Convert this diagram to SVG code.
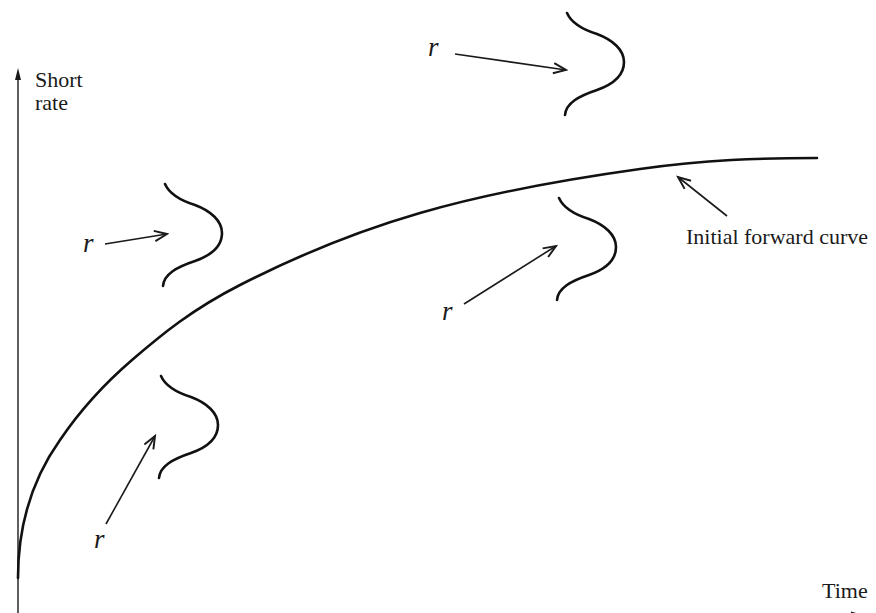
<svg xmlns="http://www.w3.org/2000/svg" width="876" height="613" viewBox="0 0 876 613">
  <style>
    .lbl { font-family: "Liberation Serif", "Times New Roman", serif; font-size: 22px; fill: #1a1a1a; }
    .r { font-family: "Liberation Serif", "Times New Roman", serif; font-size: 27px; font-style: italic; fill: #1a1a1a; }
    .axis { stroke: #1a1a1a; stroke-width: 1.4; fill: none; }
    .curve { stroke: #111; stroke-width: 2.6; fill: none; stroke-linecap: round; }
    .dist { stroke: #111; stroke-width: 2.6; fill: none; stroke-linecap: round; }
    .arr { stroke: #1a1a1a; stroke-width: 1.6; fill: none; marker-end: url(#barb); }
  </style>
  <defs>
    <marker id="barb" markerUnits="userSpaceOnUse" markerWidth="16" markerHeight="16" viewBox="-12 -6 14 12" refX="0" refY="0" orient="auto">
      <path d="M-11,-4.5 L0,0 L-11,4.5" stroke="#1a1a1a" stroke-width="1.7" fill="none"/>
    </marker>
    <path id="bell" d="M0,0 C4,9 14,16 30,21 C46,27 57,37 57,49 C57,62 47,71 30,77 C12,83 -1,90 -2,102"/>
  </defs>

  <g id="axes">
    <line class="axis" x1="18" y1="613" x2="18" y2="76"/>
    <path d="M18,68 L15,80 L21,80 Z" fill="#1a1a1a"/>
    <line class="axis" x1="18" y1="615" x2="854" y2="615"/>
    <path d="M863,615 L851,611.5 L851,618.5 Z" fill="#1a1a1a"/>
    <text class="lbl" x="35" y="87">Short</text>
    <text class="lbl" x="35" y="110">rate</text>
    <text class="lbl" x="822" y="598">Time</text>
  </g>

  <g id="forward-curve">
    <path class="curve" d="M18,578 C18,535 28,485 60,440 C79,412 102,385.8 132,360 C162,334.2 192,309.5 240,285 C288,260.5 353.3,232.3 420,213 C486.7,193.7 573.8,178.2 640,169 C706.2,159.8 758,158 817,158"/>
    <text class="lbl" x="686" y="244">Initial forward curve</text>
  </g>

  <g id="dist-top">
    <use href="#bell" class="dist" transform="translate(567,13)"/>
    <text class="r" x="428" y="56">r</text>
  </g>
  <g id="dist-left">
    <use href="#bell" class="dist" transform="translate(165,184)"/>
    <text class="r" x="83" y="252">r</text>
  </g>
  <g id="dist-mid">
    <use href="#bell" class="dist" transform="translate(559,198)"/>
    <text class="r" x="442" y="320">r</text>
  </g>
  <g id="dist-bottom">
    <use href="#bell" class="dist" transform="translate(161,376)"/>
    <text class="r" x="94" y="548">r</text>
  </g>

  <g id="connectors">
    <line class="arr" x1="455" y1="54" x2="566" y2="70"/>
    <line class="arr" x1="105" y1="244" x2="167" y2="234"/>
    <line class="arr" x1="464" y1="304" x2="556" y2="246"/>
    <line class="arr" x1="106" y1="524" x2="155" y2="436"/>
    <line class="arr" x1="727" y1="216" x2="678" y2="177"/>
  </g>
</svg>
